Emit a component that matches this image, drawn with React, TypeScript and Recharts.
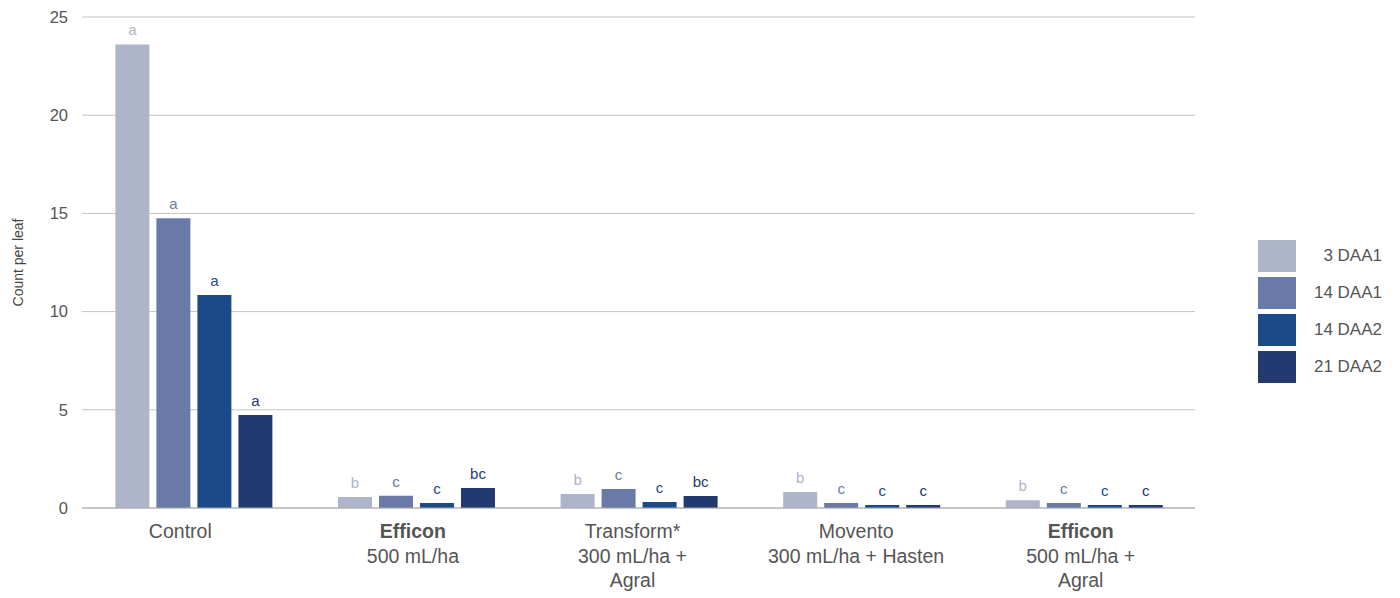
import React from 'react';
import { BarChart, Bar, XAxis, YAxis, CartesianGrid, LabelList } from 'recharts';

const categories = ['Control', 'Efficon|500 mL/ha', 'Transform*|300 mL/ha +|Agral', 'Movento|300 mL/ha + Hasten', 'Efficon|500 mL/ha +|Agral'];
const boldFirst = [false, true, false, false, true];

const seriesNames = ['3 DAA1', '14 DAA1', '14 DAA2', '21 DAA2'];
const daa1_3 = [23.6, 0.56, 0.71, 0.81, 0.4];
const daa1_14 = [14.75, 0.62, 0.97, 0.25, 0.25];
const daa2_14 = [10.85, 0.25, 0.3, 0.15, 0.15];
const daa2_21 = [4.73, 1.02, 0.61, 0.15, 0.15];

const letters3 = ['a', 'b', 'b', 'b', 'b'];
const letters14a = ['a', 'c', 'c', 'c', 'c'];
const letters14b = ['a', 'c', 'c', 'c', 'c'];
const letters21 = ['a', 'bc', 'bc', 'c', 'c'];

const yTicks = [0, 5, 10, 15, 20, 25];

const COLORS = ['#adb5ca', '#6a7aa8', '#1b4a8a', '#223a70'];
const FONT = '"Liberation Sans", Arial, Helvetica, sans-serif';

// small horizontal nudges of the category labels, as in the original
const tickDx = [-13, -3, -6, -5, -3];

const data = categories.map((c, i) => ({
  name: c,
  s0: daa1_3[i], s1: daa1_14[i], s2: daa2_14[i], s3: daa2_21[i],
  l0: letters3[i], l1: letters14a[i], l2: letters14b[i], l3: letters21[i],
}));

const CategoryTick = (props: any) => {
  const { x, y, payload, index } = props;
  const lines = String(payload.value).split('|');
  return (
    <g transform={`translate(${x + (tickDx[index] || 0)},${y})`}>
      {lines.map((ln, i) => (
        <text key={i} x={0} y={22 + i * 24.5} textAnchor="middle" fontSize={19.5} fontFamily={FONT}
          fill="#555" fontWeight={i === 0 && boldFirst[index] ? 'bold' : 'normal'}>
          {ln}
        </text>
      ))}
    </g>
  );
};

const makeLetter = (color: string) => (props: any) => {
  const { x, y, width, value } = props;
  return (
    <text x={x + width / 2} y={y - 9} textAnchor="middle" fontSize={15} fontFamily={FONT} fill={color}>
      {value}
    </text>
  );
};

const YTitle = (props: any) => {
  const { viewBox } = props;
  const cy = viewBox.y + viewBox.height / 2;
  return (
    <text x={18} y={cy} transform={`rotate(-90, 18, ${cy})`} textAnchor="middle" dominantBaseline="central"
      fontSize={14} fill="#444" fontFamily={FONT}>
      Count per leaf
    </text>
  );
};

const LegendBox = () => (
  <div style={{ position: 'absolute', left: 1258, top: 240, fontFamily: FONT }}>
    {seriesNames.map((n, i) => (
      <div key={n} style={{ display: 'flex', alignItems: 'center', height: 32, marginBottom: 5 }}>
        <div style={{ width: 38, height: 32, background: COLORS[i] }} />
        <div style={{ width: 86, textAlign: 'right', fontSize: 17, color: '#555' }}>{n}</div>
      </div>
    ))}
  </div>
);

const App = () => {
  const keys = ['s0', 's1', 's2', 's3'];
  const labels = ['l0', 'l1', 'l2', 'l3'];
  return (
    <div style={{ position: 'absolute', left: 0, top: 0, width: 1400, height: 598, background: '#fff' }}>
      <BarChart width={1400} height={598} data={data} margin={{ top: 17, right: 205, bottom: 30, left: 0 }}
        barCategoryGap="15%" barGap={7}>
        <CartesianGrid vertical={false} stroke="#c4c4c4" />
        <XAxis dataKey="name" height={60} tick={<CategoryTick />} tickLine={false} axisLine={{ stroke: '#aaa' }} interval={0} />
        <YAxis domain={[0, 25]} ticks={yTicks} width={82} axisLine={false} tickLine={false}
          tick={{ fontSize: 16.5, fill: '#555', fontFamily: FONT }} tickMargin={8}
          label={<YTitle />} />
        {keys.map((k, i) => (
          <Bar key={k} dataKey={k} name={seriesNames[i]} fill={COLORS[i]} isAnimationActive={false}>
            <LabelList dataKey={labels[i]} content={makeLetter(COLORS[i])} />
          </Bar>
        ))}
      </BarChart>
      <LegendBox />
    </div>
  );
};

export default App;
